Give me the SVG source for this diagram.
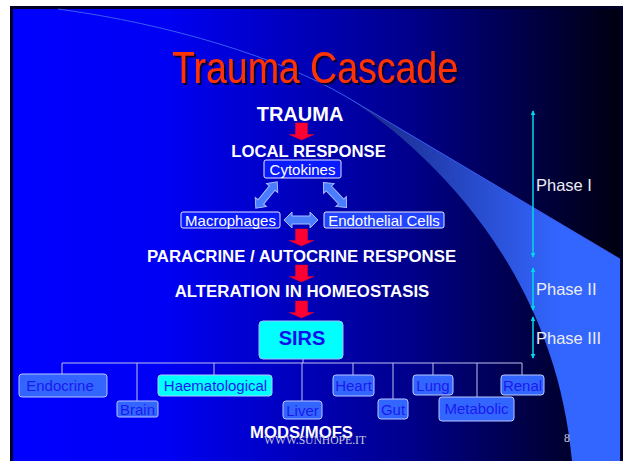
<svg xmlns="http://www.w3.org/2000/svg" width="623" height="461" viewBox="0 0 623 461">
<defs>
<linearGradient id="bg" gradientUnits="userSpaceOnUse" x1="13" y1="0" x2="620" y2="0">
<stop offset="0" stop-color="#0000ff"/>
<stop offset="0.25" stop-color="#0000f4"/>
<stop offset="0.65" stop-color="#00008c"/>
<stop offset="1" stop-color="#000010"/>
</linearGradient>
<linearGradient id="band" gradientUnits="userSpaceOnUse" x1="370" y1="0" x2="560" y2="0">
<stop offset="0" stop-color="#1a2a8c"/>
<stop offset="1" stop-color="#3366ff"/>
</linearGradient>
<filter id="sh" x="-10%" y="-20%" width="130%" height="160%">
<feDropShadow dx="2" dy="2" stdDeviation="0.3" flood-color="#000033" flood-opacity="1"/>
</filter>
<path id="red" d="M-6,0 L6,0 L6,11.5 L12.5,11.5 L0,17 L-12.5,11.5 L-6,11.5 Z"/>
<path id="dbl" d="M-17,0 L-9,-8 L-9,-4 L9,-4 L9,-8 L17,0 L9,8 L9,4 L-9,4 L-9,8 Z"/>
<marker id="ah" viewBox="0 0 6 6" refX="5" refY="3" markerWidth="5" markerHeight="5" orient="auto-start-reverse" markerUnits="userSpaceOnUse">
<path d="M0,0 L6,3 L0,6 Z" fill="#00d8e8"/>
</marker>
</defs>
<style>
.t{font-family:"Liberation Sans",Arial,sans-serif}
.hd{font-family:"Liberation Sans",Arial,sans-serif;font-weight:bold;fill:#ffffff;text-anchor:middle}
.wb rect{fill:#0a1aff;stroke:#e8e8ff;stroke-width:1}
.wb text{font-family:"Liberation Sans",Arial,sans-serif;font-size:15px;fill:#ffffff;text-anchor:middle}
.ob rect{fill:#3366ff;stroke:#b8c8ff;stroke-width:1}
.ob text{font-family:"Liberation Sans",Arial,sans-serif;font-size:15px;fill:#1a1af0;text-anchor:middle}
.cb rect{fill:#00ffff;stroke:#b8c8ff;stroke-width:1}
.cb text{font-family:"Liberation Sans",Arial,sans-serif;font-size:15px;fill:#1a1af0;text-anchor:middle}
.ra{fill:#ff0033;stroke:#e0002a;stroke-width:0.5}
.da{fill:#4a7cff;stroke:#a8c0ff;stroke-width:1}
.tl{stroke:#c0c0f0;stroke-width:1;fill:none}
.ph{stroke:#00d8e8;stroke-width:1.5;marker-start:url(#ah);marker-end:url(#ah)}
.pl{font-family:"Liberation Sans",Arial,sans-serif;font-size:16.5px;fill:#ececf4}
.ft{font-family:"Liberation Serif","Times New Roman",serif;fill:#c8c8d8}
</style>
<rect x="0" y="0" width="623" height="461" fill="#ffffff"/>
<rect x="10" y="6" width="613" height="460" fill="#000028"/>
<rect x="13" y="9" width="607" height="460" fill="url(#bg)"/>
<path d="M345,96 L620,259 L620,461 L572,461 C555,270 430,150 345,96 Z" fill="url(#band)"/>
<path d="M58,9 C170,24 280,58 345,96 L620,259" fill="none" stroke="#3a5cf0" stroke-width="1"/>

<g id="title">
<text class="t" x="315" y="83" font-size="44" text-anchor="middle" fill="#ff3300" filter="url(#sh)" textLength="286" lengthAdjust="spacingAndGlyphs">Trauma Cascade</text>
</g>

<g id="connectors">
<use href="#red" class="ra" x="301.5" y="123"/>
<use href="#red" class="ra" x="301.5" y="229"/>
<use href="#red" class="ra" x="301.5" y="265"/>
<use href="#red" class="ra" x="301.5" y="301"/>
<use href="#dbl" class="da" transform="translate(266.5,195) rotate(129) scale(1,0.9)"/>
<use href="#dbl" class="da" transform="translate(335,195) rotate(47) scale(1,0.9)"/>
<use href="#dbl" class="da" transform="translate(301,220)"/>
<path class="tl" d="M62,363 H522 M303,359 V363 M62,363 V374 M137,363 V401 M214,363 V375 M302,363 V401 M353,363 V375 M393,363 V399 M433,363 V375 M477,363 V397 M522,363 V375"/>
<line class="ph" x1="533" y1="111" x2="533" y2="257"/>
<line class="ph" x1="533" y1="268" x2="533" y2="310"/>
<line class="ph" x1="533" y1="317" x2="533" y2="358"/>
</g>

<g id="trauma"><text class="hd" x="300" y="121" font-size="20">TRAUMA</text></g>
<g id="local"><text class="hd" x="308.5" y="157" font-size="16.7">LOCAL RESPONSE</text></g>
<g id="cytokines" class="wb"><rect x="264" y="160" width="77" height="18" rx="2"/><text x="302.5" y="175">Cytokines</text></g>
<g id="macrophages" class="wb"><rect x="181" y="212" width="99" height="16" rx="2"/><text x="230.5" y="226">Macrophages</text></g>
<g id="endothelial" class="wb"><rect x="324" y="212" width="120" height="16" rx="2" style="fill:#2244ff"/><text x="384" y="226">Endothelial Cells</text></g>
<g id="paracrine"><text class="hd" x="301.5" y="262" font-size="16.8">PARACRINE / AUTOCRINE RESPONSE</text></g>
<g id="alteration"><text class="hd" x="302" y="297" font-size="16.8">ALTERATION IN HOMEOSTASIS</text></g>
<g id="sirs"><rect x="259" y="321" width="84" height="38" rx="4" fill="#00ffff" stroke="#a0c0ff" stroke-width="1"/><text class="t" x="302" y="345" font-size="20" font-weight="bold" fill="#1010ee" text-anchor="middle">SIRS</text></g>

<g id="endocrine" class="ob"><rect x="19" y="374" width="88" height="23" rx="3"/><text x="60" y="391">Endocrine</text></g>
<g id="haematological" class="cb"><rect x="158" y="375" width="114" height="21" rx="3"/><text x="215.5" y="391">Haematological</text></g>
<g id="heart" class="ob"><rect x="333" y="375" width="41" height="21" rx="3"/><text x="353.5" y="391">Heart</text></g>
<g id="lung" class="ob"><rect x="413" y="375" width="40" height="20" rx="3"/><text x="433" y="391">Lung</text></g>
<g id="renal" class="ob"><rect x="501" y="375" width="43" height="20" rx="3"/><text x="522.5" y="391">Renal</text></g>
<g id="brain" class="ob"><rect x="117" y="401" width="41" height="16" rx="2"/><text x="137.5" y="415">Brain</text></g>
<g id="liver" class="ob"><rect x="283" y="401" width="39" height="18" rx="3"/><text x="302.5" y="416">Liver</text></g>
<g id="gut" class="ob"><rect x="378" y="399" width="30" height="20" rx="3"/><text x="393" y="415">Gut</text></g>
<g id="metabolic" class="ob"><rect x="439" y="397" width="75" height="24" rx="3"/><text x="476.5" y="414">Metabolic</text></g>

<g id="mods"><text class="hd" x="301.5" y="438" font-size="16.7">MODS/MOFS</text></g>
<g id="phases">
<text class="pl" x="536" y="191">Phase I</text>
<text class="pl" x="536" y="295">Phase II</text>
<text class="pl" x="536" y="344">Phase III</text>
</g>
<g id="footer">
<text class="ft" x="264" y="444" font-size="11.6">WWW.SUNHOPE.IT</text>
<text class="ft" x="564" y="442" font-size="12">8</text>
</g>
</svg>
